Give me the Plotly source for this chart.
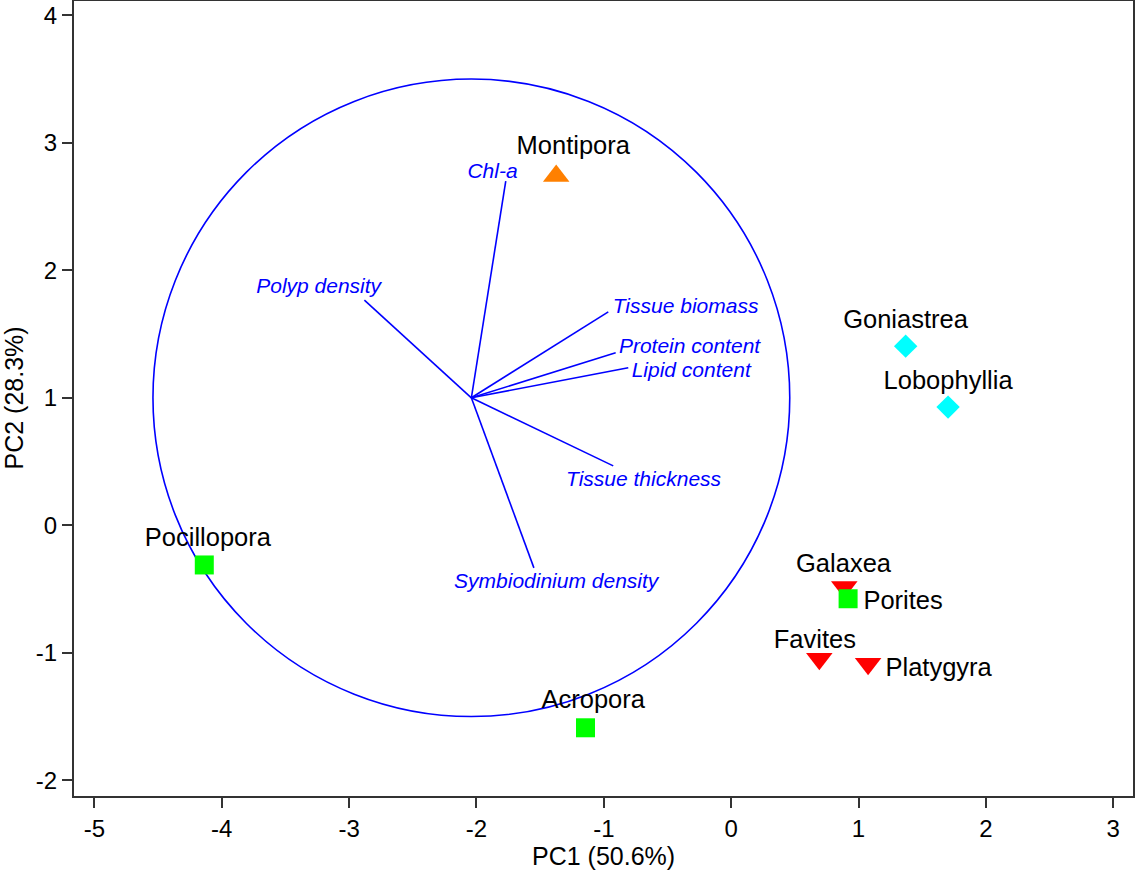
import plotly.graph_objects as go

# ---------------- data ----------------
# loading vectors (start at common origin)
vec_origin_x = -2.04
vec_origin_y = 1.0
vec_names = ["Chl-a", "Polyp density", "Tissue biomass", "Protein content",
             "Lipid content", "Tissue thickness", "Symbiodinium density"]
vec_x_end = [-1.77, -2.88, -0.965, -0.907, -0.808, -0.926, -1.549]
vec_y_end = [2.70, 1.766, 1.674, 1.353, 1.235, 0.466, -0.334]
vec_label_x = [-1.874, -3.239, -0.358, -0.327, -0.314, -0.688, -1.374]
vec_label_y = [2.768, 1.866, 1.708, 1.395, 1.204, 0.349, -0.449]

# correlation circle
circle_cx = -2.04
circle_cy = 1.0
circle_r = 2.5

# species scores
sp_names = ["Montipora", "Goniastrea", "Lobophyllia", "Pocillopora", "Acropora",
            "Galaxea", "Porites", "Favites", "Platygyra"]
sp_x = [-1.374, 1.370, 1.703, -4.137, -1.144, 0.888, 0.918, 0.692, 1.075]
sp_y = [2.739, 1.405, 0.927, -0.311, -1.588, -0.483, -0.576, -1.047, -1.085]
sp_group = ["tri_up", "diamond", "diamond", "square", "square",
            "tri_down", "square", "tri_down", "tri_down"]
sp_label_x = [-1.24, 1.369, 1.703, -4.109, -1.083, 0.882, 1.350, 0.657, 1.629]
sp_label_y = [2.965, 1.597, 1.119, -0.116, -1.384, -0.32, -0.605, -0.913, -1.128]

x_ticks = [-5, -4, -3, -2, -1, 0, 1, 2, 3]
x_tick_labels = ["-5", "-4", "-3", "-2", "-1", "0", "1", "2", "3"]
y_ticks = [-2, -1, 0, 1, 2, 3, 4]
y_tick_labels = ["-2", "-1", "0", "1", "2", "3", "4"]
x_title = "PC1 (50.6%)"
y_title = "PC2 (28.3%)"

# ---------------- styles ----------------
group_style = {
    "tri_down": dict(symbol="triangle-down", color="#FF0000", size=23),
    "square": dict(symbol="square", color="#00FF00", size=19),
    "diamond": dict(symbol="diamond", color="#00FFFF", size=18),
    "tri_up": dict(symbol="triangle-up", color="#FF8000", size=23),
}
BLUE = "#0000FF"
FONT = "Liberation Sans, Arial, sans-serif"

fig = go.Figure()

# vectors
lx, ly = [], []
for xe, ye in zip(vec_x_end, vec_y_end):
    lx += [vec_origin_x, xe, None]
    ly += [vec_origin_y, ye, None]
fig.add_trace(go.Scatter(x=lx, y=ly, mode="lines",
                         line=dict(color=BLUE, width=1.6),
                         hoverinfo="skip", showlegend=False))

# vector labels
fig.add_trace(go.Scatter(x=vec_label_x, y=vec_label_y, mode="text",
                         text=["<i>%s</i>" % n for n in vec_names],
                         textposition="middle center",
                         textfont=dict(family=FONT, size=21, color=BLUE),
                         hoverinfo="skip", showlegend=False))

# species markers, drawn group by group (squares over triangles)
for g in ["tri_down", "diamond", "tri_up", "square"]:
    idx = [i for i, gg in enumerate(sp_group) if gg == g]
    st = group_style[g]
    fig.add_trace(go.Scatter(
        x=[sp_x[i] for i in idx], y=[sp_y[i] for i in idx],
        mode="markers",
        marker=dict(symbol=st["symbol"], color=st["color"], size=st["size"],
                    line=dict(width=0)),
        text=[sp_names[i] for i in idx],
        showlegend=False))

# species labels
fig.add_trace(go.Scatter(x=sp_label_x, y=sp_label_y, mode="text",
                         text=sp_names, textposition="middle center",
                         textfont=dict(family=FONT, size=25.5, color="black"),
                         hoverinfo="skip", showlegend=False))

fig.add_shape(type="circle", xref="x", yref="y",
              x0=circle_cx - circle_r, x1=circle_cx + circle_r,
              y0=circle_cy - circle_r, y1=circle_cy + circle_r,
              line=dict(color=BLUE, width=1.6), layer="below")

axis_common = dict(
    showgrid=False, zeroline=False, automargin=False,
    showline=True, linecolor="#333333", linewidth=2, mirror=True,
    ticks="outside", ticklen=10, tickwidth=2, tickcolor="#333333",
    tickfont=dict(family=FONT, size=24, color="black"),
)

fig.update_layout(
    width=1135, height=871,
    margin=dict(l=74, r=2, t=1, b=75),
    paper_bgcolor="white", plot_bgcolor="white",
    xaxis=dict(range=[-5.16, 3.155], tickvals=x_ticks, ticktext=x_tick_labels,
               **axis_common),
    yaxis=dict(range=[-2.123, 4.112], tickvals=y_ticks, ticktext=y_tick_labels,
               **axis_common),
    annotations=[
        dict(text=x_title, xref="paper", yref="paper", x=0.5, y=0,
             yshift=-60, xanchor="center", yanchor="middle", showarrow=False,
             font=dict(family=FONT, size=25, color="black")),
        dict(text=y_title, xref="paper", yref="paper", x=0, y=0.5,
             xshift=-61, xanchor="center", yanchor="middle", showarrow=False,
             textangle=-90, font=dict(family=FONT, size=25, color="black")),
    ],
)

fig.write_html("out.html",
               config={"displayModeBar": False},
               post_script="document.body.style.margin='0';"
                           "document.body.style.overflow='hidden';")
